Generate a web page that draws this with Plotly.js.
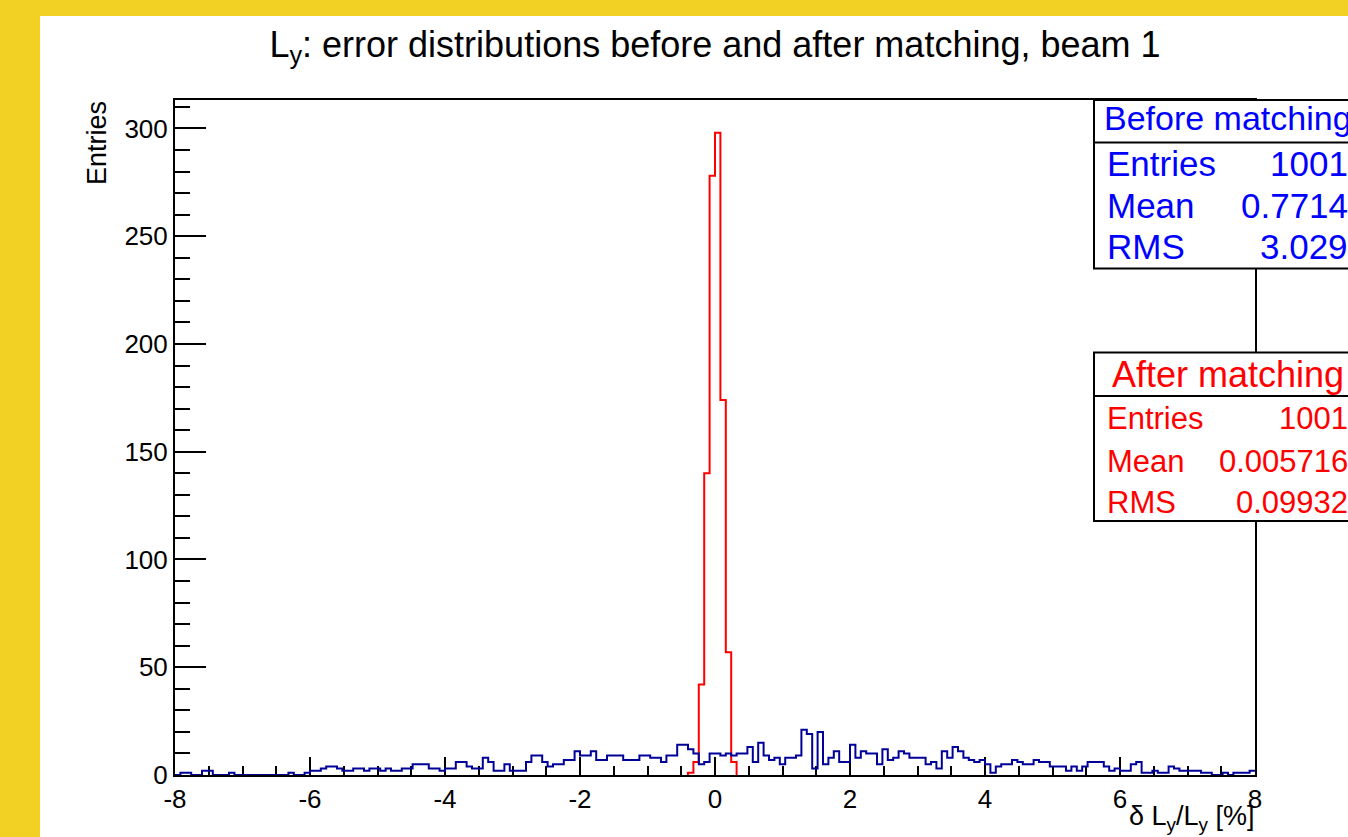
<!DOCTYPE html>
<html><head><meta charset="utf-8">
<script src="https://cdn.plot.ly/plotly-3.0.1.min.js"></script>
<style>html,body{margin:0;padding:0;overflow:hidden;background:#fff}</style>
</head><body><div id="chart" style="width:1348px;height:837px"></div>
<script>
// Histogram binning: 200 bins from -8 to 8
const xMin = -8, xMax = 8, nBins = 200;

// "Before matching" bin contents
const beforeCounts = [
  0,1,1,0,0,2,2,0,0,0, 1,0,0,0,0,0,0,0,0,0,
  0,1,0,0,1,2,2,3,4,4, 3,2,2,3,3,2,3,3,2,3,
  2,2,3,3,5,5,5,3,3,2, 3,3,6,6,4,3,3,8,6,2,
  2,5,2,2,2,6,9,9,6,4, 5,5,7,7,11,9,9,11,7,7,
  9,9,9,7,7,7,9,9,8,8, 6,9,9,14,14,12,10,5,6,10,
  10,9,10,9,10,10,13,6,15,9, 7,8,5,8,8,9,21,19,3,20,
  5,8,11,6,6,14,8,11,10,10, 5,12,7,8,11,10,8,8,8,5,
  6,3,11,8,13,11,8,7,6,7, 5,1,4,5,5,7,6,5,5,7,
  6,6,4,4,4,2,4,2,4,6, 6,6,4,2,3,2,2,5,6,1,
  1,2,1,1,4,3,2,2,2,2, 1,1,0,0,1,0,1,1,1,2
];

// "After matching" bin contents
const afterCounts = [
  0,0,0,0,0,0,0,0,0,0, 0,0,0,0,0,0,0,0,0,0,
  0,0,0,0,0,0,0,0,0,0, 0,0,0,0,0,0,0,0,0,0,
  0,0,0,0,0,0,0,0,0,0, 0,0,0,0,0,0,0,0,0,0,
  0,0,0,0,0,0,0,0,0,0, 0,0,0,0,0,0,0,0,0,0,
  0,0,0,0,0,0,0,0,0,0, 0,0,0,0,0,1,6,42,140,278,
  298,174,57,6,0,0,0,0,0,0, 0,0,0,0,0,0,0,0,0,0,
  0,0,0,0,0,0,0,0,0,0, 0,0,0,0,0,0,0,0,0,0,
  0,0,0,0,0,0,0,0,0,0, 0,0,0,0,0,0,0,0,0,0,
  0,0,0,0,0,0,0,0,0,0, 0,0,0,0,0,0,0,0,0,0,
  0,0,0,0,0,0,0,0,0,0, 0,0,0,0,0,0,0,0,0,0
];

const xTickVals = [-8, -6, -4, -2, 0, 2, 4, 6, 8];
const xTickLabels = ['-8', '-6', '-4', '-2', '0', '2', '4', '6', '8'];
const yTickVals = [0, 50, 100, 150, 200, 250, 300];
const yTickLabels = ['0', '50', '100', '150', '200', '250', '300'];

const statLabels = ['Entries', 'Mean', 'RMS'];
const beforeStatValues = ['1001', '0.7714', '3.029'];
const afterStatValues = ['1001', '0.005716', '0.09932'];
const beforeTitle = 'Before matching';
const afterTitle = 'After matching';

const chartTitle = 'L<sub>y</sub>: error distributions before and after matching, beam 1';
const xTitle = '\u03b4 L<sub>y</sub>/L<sub>y</sub> [%]';
const yTitle = 'Entries';

// ---------- build step outlines ----------
const binW = (xMax - xMin) / nBins;
function stepTrace(counts, color, trimZeros) {
  let first = 0, last = counts.length - 1;
  if (trimZeros) {
    while (first < last && counts[first] === 0) first++;
    while (last > first && counts[last] === 0) last--;
  }
  const xs = [], ys = [];
  if (trimZeros) { xs.push(xMin + first * binW); ys.push(0); }
  for (let i = first; i <= last; i++) { xs.push(xMin + i * binW); ys.push(counts[i]); }
  xs.push(xMin + (last + 1) * binW); ys.push(trimZeros ? 0 : counts[last]);
  return {x: xs, y: ys, type: 'scatter', mode: 'lines',
          line: {shape: 'hv', color: color, width: 2}, hoverinfo: 'skip', showlegend: false};
}

const BLUE = '#000099', RED = '#ff0000', YEL = '#f2d024';
const FONT = '"Liberation Sans", Arial, Helvetica, sans-serif';

// pixel helpers (plot area 175..1255 x 100..775)
const L = 175, R = 1255, T = 100, B = 775;
const px = x => (x - L) / (R - L);
const py = y => (B - y) / (B - T);

const shapes = [
  {type:'rect', xref:'paper', yref:'paper', x0:px(-5), x1:px(40), y0:py(900), y1:py(-10), fillcolor:YEL, line:{width:0}, layer:'below'},
  {type:'rect', xref:'paper', yref:'paper', x0:px(-5), x1:px(1400), y0:py(16), y1:py(-10), fillcolor:YEL, line:{width:0}, layer:'below'},
  // before box
  {type:'rect', xref:'paper', yref:'paper', x0:px(1094), x1:px(1420), y0:py(268.5), y1:py(100), fillcolor:'#fff', line:{color:'#000', width:2}, layer:'above'},
  {type:'line', xref:'paper', yref:'paper', x0:px(1094), x1:px(1420), y0:py(142.5), y1:py(142.5), line:{color:'#000', width:2}, layer:'above'},
  // after box
  {type:'rect', xref:'paper', yref:'paper', x0:px(1094), x1:px(1420), y0:py(521), y1:py(352.5), fillcolor:'#fff', line:{color:'#000', width:2}, layer:'above'},
  {type:'line', xref:'paper', yref:'paper', x0:px(1094), x1:px(1420), y0:py(396), y1:py(396), line:{color:'#000', width:2}, layer:'above'}
];

function ann(text, xPix, yPix, opts) {
  return Object.assign({text: text, xref:'paper', yref:'paper', x: px(xPix), y: py(yPix),
    showarrow:false, xanchor:'left', yanchor:'middle', font:{family:FONT, size:24, color:'#000'}}, opts || {});
}

const annotations = [
  ann(yTitle, 97, 99, {textangle:-90, xanchor:'center', yanchor:'top', font:{family:FONT, size:27, color:'#000'}}),
  ann(xTitle, 1257, 818, {xanchor:'right', font:{family:FONT, size:27, color:'#000'}}),
  ann(beforeTitle, 1228, 118, {xanchor:'center', font:{family:FONT, size:34, color:'#0000ff'}}),
  ann(afterTitle, 1228, 374.5, {xanchor:'center', font:{family:FONT, size:36, color:RED}})
];
const beforeRowY = [163.5, 205, 246.5];
const afterRowY = [418, 461, 502.5];
statLabels.forEach((lab, i) => {
  annotations.push(ann(lab, 1105, beforeRowY[i], {font:{family:FONT, size:35, color:'#0000ff'}}));
  annotations.push(ann(beforeStatValues[i], 1350, beforeRowY[i], {xanchor:'right', font:{family:FONT, size:35, color:'#0000ff'}}));
  annotations.push(ann(lab, 1105, afterRowY[i], {font:{family:FONT, size:31, color:RED}}));
  annotations.push(ann(afterStatValues[i], 1350, afterRowY[i], {xanchor:'right', font:{family:FONT, size:31, color:RED}}));
});

const layout = {
  width: 1348, height: 837,
  margin: {l: L, r: 1348 - R, t: T, b: 837 - B, pad: 0},
  paper_bgcolor: '#ffffff', plot_bgcolor: '#ffffff',
  font: {family: FONT, color: '#000'},
  title: {text: chartTitle, xref:'paper', x: 0.5, xanchor:'center', yref:'container', y: 1 - 44/837, yanchor:'middle',
          font: {family: FONT, size: 36, color: '#000'}},
  xaxis: {range: [xMin, xMax], tickmode: 'array', tickvals: xTickVals, ticktext: xTickLabels,
          ticks: 'inside', ticklen: 18, tickwidth: 2, tickcolor: '#000',
          showline: true, linewidth: 2, linecolor: '#000', mirror: true, showgrid: false, zeroline: false,
          tickfont: {family: FONT, size: 26, color: '#000'}, layer: 'below traces',
          minor: {tick0: 0, dtick: 0.5, ticks: 'inside', ticklen: 9, tickwidth: 2, tickcolor: '#000', showgrid: false},
          fixedrange: true},
  yaxis: {range: [0, 313.2], tickmode: 'array', tickvals: yTickVals, ticktext: yTickLabels,
          ticks: 'inside', ticklen: 31, tickwidth: 2, tickcolor: '#000',
          showline: true, linewidth: 2, linecolor: '#000', mirror: true, showgrid: false, zeroline: false,
          tickfont: {family: FONT, size: 26, color: '#000'}, layer: 'below traces',
          minor: {tick0: 0, dtick: 10, ticks: 'inside', ticklen: 15, tickwidth: 2, tickcolor: '#000', showgrid: false},
          fixedrange: true},
  shapes: shapes,
  annotations: annotations,
  showlegend: false
};

Plotly.newPlot('chart', [stepTrace(afterCounts, RED, true), stepTrace(beforeCounts, BLUE, false)], layout,
  {displayModeBar: false, staticPlot: true});
</script></body></html>
